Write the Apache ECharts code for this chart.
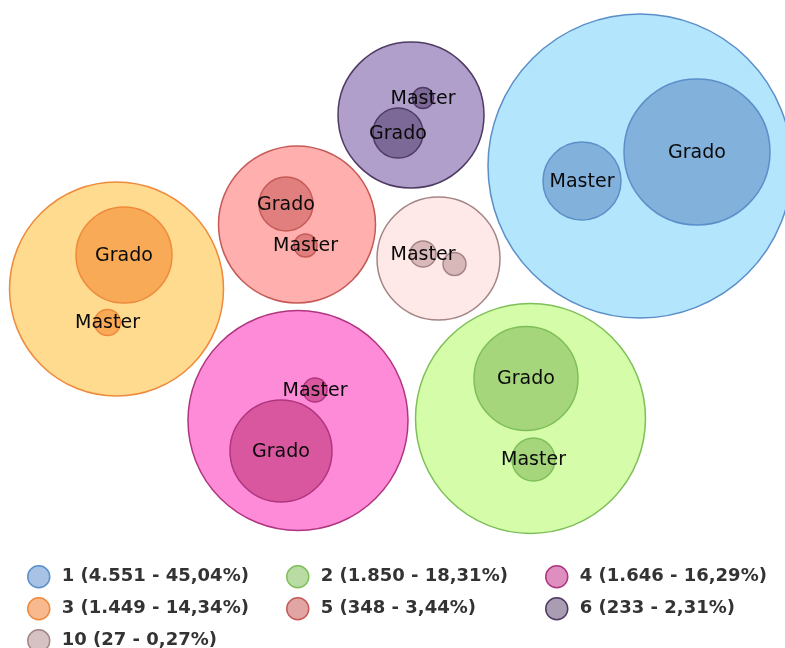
<!DOCTYPE html>
<html>
<head>
<meta charset="utf-8">
<script src="https://cdn.jsdelivr.net/npm/echarts@6/dist/echarts.min.js"></script>
<style>html,body{margin:0;padding:0;background:#fff}#chart{width:785px;height:648px}</style>
</head>
<body>
<div id="chart"></div>
<script>
// ---- data ----
const groups = ['1', '2', '4', '3', '5', '6', '10'];
const totals = [4551, 1850, 1646, 1449, 348, 233, 27];
const subLabels = ['Grado', 'Master'];

// ---- layout (chart units = pixels of the hidden axes) ----
const outerBubbles = [[640,166,152],[530.5,418.5,115],[298,420.5,110],[116.5,289,107],[297,224.5,78.5],[411,115,73],[438.5,258.5,61.5]];
const gradoBubbles = [[697,152,73],[526,378.5,52],[281,451,51],[124,255,48],[286,204,27],[398,133,25],[454.5,264,11.5]];
const masterBubbles = [[582,181,39],[533.5,459.5,21.5],[315,390,12],[107.5,322.5,13],[305.5,245.5,11.5],[423,98,10.5],[423,254,13]];
const gradoLabelShown = [true, true, true, true, true, true, false];
const legendColumnOf = [0, 1, 2, 0, 1, 2, 0];

// ---- styles ----
const outerFill = ['#b3e5fc','#d4fca9','#fe8bd8','#fedb8e','#feafae','#af9fca','#ffe8e8'];
const innerFill = ['#82b1dc','#a6d67c','#d9579f','#f8aa57','#e07f7d','#7d6997','#d8b8b8'];
const strokes   = ['#5b8fc9','#7ebf58','#b0357f','#ef8a3c','#c65a57','#4e3a62','#a48585'];
const legendFill= ['#a7c2e5','#b9dca5','#de8fbf','#f9b98f','#e1a5a4','#a89db2','#d6c2c2'];
const legendLeft = [27, 286, 545];

const sum = totals.reduce((a, b) => a + b, 0);
function fmtInt(n) { return String(n).replace(/\B(?=(\d{3})+(?!\d))/g, '.'); }
function fmtPct(v) { return (v / sum * 100).toFixed(2).replace('.', ','); }
const legendNames = groups.map((g, i) => `${g} (${fmtInt(totals[i])} - ${fmtPct(totals[i])}%)`);

const series = groups.map((g, gi) => {
  const items = [outerBubbles[gi], gradoBubbles[gi], masterBubbles[gi]];
  return {
    type: 'custom',
    name: legendNames[gi],
    coordinateSystem: 'cartesian2d',
    clip: false,
    itemStyle: { color: legendFill[gi], borderColor: strokes[gi], borderWidth: 1.5 },
    encode: { x: 0, y: 1 },
    data: items,
    renderItem: function (params, api) {
      const idx = params.dataIndex;
      const c = api.coord([api.value(0), api.value(1)]);
      const r = api.size([api.value(2), 0])[0];
      const children = [{
        type: 'circle',
        shape: { cx: c[0], cy: c[1], r: r },
        style: { fill: idx === 0 ? outerFill[gi] : innerFill[gi], stroke: strokes[gi], lineWidth: 1.5 }
      }];
      if (idx > 0) {
        const show = idx === 1 ? gradoLabelShown[gi] : true;
        if (show) {
          children.push({
            type: 'text',
            z2: 100,
            style: {
              text: subLabels[idx - 1], x: c[0], y: c[1] + 1,
              align: 'center', verticalAlign: 'middle',
              font: '19px "DejaVu Sans"', fill: '#0a0a0a'
            }
          });
        }
      }
      return { type: 'group', children: children };
    }
  };
});

const legends = legendLeft.map((left, col) => ({
  orient: 'vertical',
  left: left, top: 565, height: 140, padding: 0,
  icon: 'circle', itemWidth: 22, itemHeight: 22, itemGap: 8.5,
  selectedMode: false,
  data: legendNames
    .map((n, i) => ({ name: n, itemStyle: { color: legendFill[i], borderColor: strokes[i], borderWidth: 1.5 }, col: legendColumnOf[i] }))
    .filter(d => d.col === col)
    .map(d => ({ name: d.name, itemStyle: d.itemStyle })),
  textStyle: { fontFamily: 'DejaVu Sans', fontWeight: 'bold', fontSize: 18, color: '#333', padding: [0, 0, 0, 7], lineHeight: 22 }
}));

const chart = echarts.init(document.getElementById('chart'));
chart.setOption({
  animation: false,
  grid: { left: 0, top: 0, width: 785, height: 648 },
  xAxis: { type: 'value', min: 0, max: 785, show: false },
  yAxis: { type: 'value', min: 0, max: 648, inverse: true, show: false },
  legend: legends,
  series: series
});
</script>
</body>
</html>
